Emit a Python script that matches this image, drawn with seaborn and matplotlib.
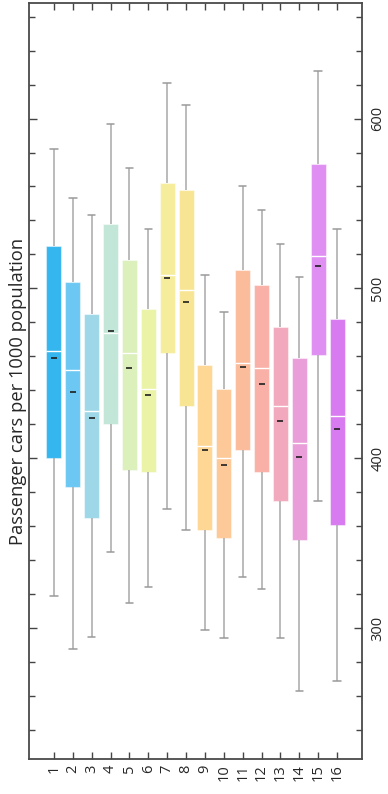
import numpy as np
import pandas as pd
import matplotlib
matplotlib.use("Agg")
import matplotlib.pyplot as plt
from matplotlib.ticker import MultipleLocator
import seaborn as sns

# Car ownership by group: five-number summary plus mean
groups = [str(i) for i in range(1, 17)]
whisker_low = [319, 288, 295, 345, 315, 324, 370, 358, 299, 294, 330, 323, 294, 263, 375, 269]
q1 = [400, 383, 365, 420, 393, 392, 462, 431, 358, 353, 405, 392, 375, 352, 461, 361]
median = [463, 452, 428, 474, 462, 441, 508, 499, 407, 400, 456, 453, 431, 409, 519, 425]
q3 = [525, 504, 485, 538, 517, 488, 562, 558, 455, 441, 511, 502, 477, 459, 573, 482]
whisker_high = [582, 553, 543, 597, 571, 535, 621, 608, 508, 486, 560, 546, 526, 507, 628, 535]
mean = [459, 439, 424, 475, 453, 437, 506, 492, 405, 396, 454, 444, 422, 401, 513, 417]

colors = ["#35b6ee", "#6cc8f3", "#9ed8e8", "#c2e6d7", "#dbf0bb", "#eaf3a6",
          "#f6ed9c", "#f8e594", "#fed794", "#fdc998", "#fbbc9c", "#f9b0a6",
          "#f2a9bd", "#e99ed9", "#df8ef2", "#d87af0"]

# Long-form table: each group's five summary points reproduce its box exactly
rows = []
for g, lo, a, m, b, hi in zip(groups, whisker_low, q1, median, q3, whisker_high):
    for v in (lo, a, m, b, hi):
        rows.append({"group": g, "value": v})
df = pd.DataFrame(rows)

sns.set_style("white")
plt.rcParams["font.family"] = ["Open Sans", "DejaVu Sans"]

fig = plt.figure(figsize=(3.88, 7.94), dpi=100)
ax = fig.add_axes([29 / 388, 1 - 759 / 794, (362 - 29) / 388, (759 - 3) / 794])

sns.boxplot(
    data=df, x="group", y="value", hue="group", order=groups, hue_order=groups,
    palette=colors, saturation=1, width=0.8, whis=(0, 100), showfliers=False,
    legend=False, ax=ax, linewidth=1,
    boxprops=dict(edgecolor=(1, 1, 1, 0.45), linewidth=0.8),
    medianprops=dict(color="white", linewidth=1.0),
    whiskerprops=dict(color="#a8a8a8", linewidth=1.1),
    capprops=dict(color="#9a9a9a", linewidth=1.1),
)

# Mean markers
ax.scatter(np.arange(len(groups)), mean, marker="_", s=24, linewidths=1.4,
           color="#1e1e1e", zorder=5, alpha=0.85)

ax.set_xlim(-1.32, 16.32)
ax.set_ylim(223, 668)

ax.yaxis.set_major_locator(MultipleLocator(100))
ax.yaxis.set_minor_locator(MultipleLocator(20))

for side in ("left", "right", "top", "bottom"):
    ax.spines[side].set_visible(True)
    ax.spines[side].set_color("#4a4a4a")
    ax.spines[side].set_linewidth(1.3)

ax.tick_params(axis="x", which="major", direction="in", length=5, width=1,
               color="#444444", top=True, bottom=True, labelbottom=True,
               labelrotation=90, labelsize=10.5, pad=4)
ax.tick_params(axis="y", which="major", direction="in", length=6, width=1,
               color="#444444", left=True, right=True, labelleft=False,
               labelright=True, labelrotation=90, labelsize=10.5, pad=6)
ax.tick_params(axis="y", which="minor", direction="in", length=4, width=1,
               color="#444444", left=True, right=True)
for lab in ax.get_yticklabels():
    lab.set_va("center")

ax.set_xlabel("")
ax.set_ylabel("")
fig.text(18.5 / 388, 1 - 391 / 794, "Passenger cars per 1000 population",
         rotation=90, ha="center", va="center", fontsize=13.2)

fig.savefig("out.png", dpi=100)
